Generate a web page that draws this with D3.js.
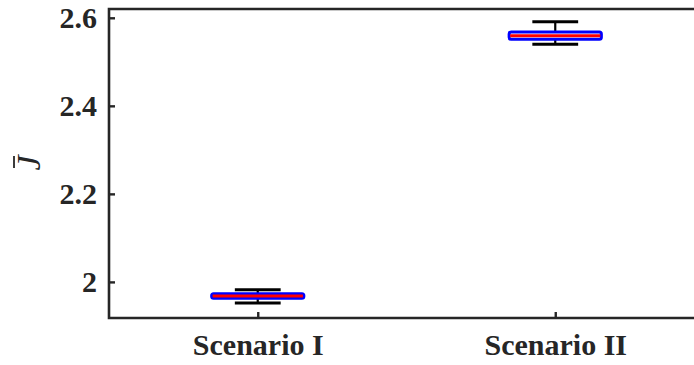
<!DOCTYPE html>
<html>
<head>
<meta charset="utf-8">
<script src="https://cdn.jsdelivr.net/npm/d3@7"></script>
<style>
  body { margin: 0; background: #fff; }
  svg { display: block; }
  text { font-family: "Liberation Serif", "Times New Roman", serif; }
</style>
</head>
<body>
<div id="vis"></div>
<script>
const FRAME_WIDTH = 694;
const FRAME_HEIGHT = 365;
const MARGINS = {left: 109, top: 9, bottom: 47};
const PLOT_RIGHT = 704; // axes box runs past the window edge

// box statistics
const scenarios = ["Scenario I", "Scenario II"];
const whiskerLow = [1.952, 2.540];
const q1 = [1.963, 2.551];
const median = [1.968, 2.559];
const q3 = [1.973, 2.568];
const whiskerHigh = [1.982, 2.591];
const yTicks = [2, 2.2, 2.4, 2.6];

const FRAME = d3.select("#vis")
  .append("svg")
    .attr("width", FRAME_WIDTH)
    .attr("height", FRAME_HEIGHT);

const X_SCALE = d3.scaleLinear()
  .domain([0.5, 2.5])
  .range([MARGINS.left, PLOT_RIGHT]);

const Y_SCALE = d3.scaleLinear()
  .domain([1.918, 2.62])
  .range([FRAME_HEIGHT - MARGINS.bottom, MARGINS.top]);

const AXIS_COLOR = "#262626";
const boxHalf = 0.155;
const capHalf = 0.077;

// box frame (top + left + bottom)
FRAME.append("path")
  .attr("d", "M" + PLOT_RIGHT + "," + Y_SCALE.range()[1] +
             "H" + MARGINS.left + "V" + Y_SCALE.range()[0] + "H" + PLOT_RIGHT)
  .attr("fill", "none")
  .attr("stroke", AXIS_COLOR)
  .attr("stroke-width", 2.6);

// y axis ticks and labels
const yAxis = FRAME.append("g")
  .attr("transform", "translate(" + MARGINS.left + ",0)")
  .call(d3.axisLeft(Y_SCALE).tickValues(yTicks).tickSize(-6).tickPadding(12)
          .tickFormat(d3.format("")));
yAxis.select(".domain").remove();
yAxis.selectAll("line").attr("stroke", AXIS_COLOR).attr("stroke-width", 2.4);
yAxis.selectAll("text")
  .attr("fill", AXIS_COLOR)
  .attr("font-size", "30px")
  .attr("font-weight", "bold")
  .attr("font-family", "Liberation Serif, serif");

// x axis ticks and labels
const xAxis = FRAME.append("g")
  .attr("transform", "translate(0," + Y_SCALE.range()[0] + ")")
  .call(d3.axisBottom(X_SCALE).tickValues([1, 2]).tickSize(-6).tickPadding(16)
          .tickFormat((d) => scenarios[d - 1]));
xAxis.select(".domain").remove();
xAxis.selectAll("line").attr("stroke", AXIS_COLOR).attr("stroke-width", 2.4);
xAxis.selectAll("text")
  .attr("fill", AXIS_COLOR)
  .attr("font-size", "30px")
  .attr("font-weight", "bold")
  .attr("font-family", "Liberation Serif, serif");

// boxes
const idx = d3.range(scenarios.length);
const boxes = FRAME.append("g");

boxes.selectAll(".whisker")
  .data(idx).enter().append("line")
    .attr("x1", (i) => X_SCALE(i + 1))
    .attr("x2", (i) => X_SCALE(i + 1))
    .attr("y1", (i) => Y_SCALE(whiskerLow[i]))
    .attr("y2", (i) => Y_SCALE(whiskerHigh[i]))
    .attr("stroke", "#000").attr("stroke-width", 2.2);

boxes.selectAll(".capLow")
  .data(idx).enter().append("line")
    .attr("x1", (i) => X_SCALE(i + 1 - capHalf))
    .attr("x2", (i) => X_SCALE(i + 1 + capHalf))
    .attr("y1", (i) => Y_SCALE(whiskerLow[i]))
    .attr("y2", (i) => Y_SCALE(whiskerLow[i]))
    .attr("stroke", "#000").attr("stroke-width", 3);

boxes.selectAll(".capHigh")
  .data(idx).enter().append("line")
    .attr("x1", (i) => X_SCALE(i + 1 - capHalf))
    .attr("x2", (i) => X_SCALE(i + 1 + capHalf))
    .attr("y1", (i) => Y_SCALE(whiskerHigh[i]))
    .attr("y2", (i) => Y_SCALE(whiskerHigh[i]))
    .attr("stroke", "#000").attr("stroke-width", 3);

boxes.selectAll(".box")
  .data(idx).enter().append("rect")
    .attr("x", (i) => X_SCALE(i + 1 - boxHalf))
    .attr("width", (i) => X_SCALE(i + 1 + boxHalf) - X_SCALE(i + 1 - boxHalf))
    .attr("y", (i) => Y_SCALE(q3[i]))
    .attr("height", (i) => Y_SCALE(q1[i]) - Y_SCALE(q3[i]))
    .attr("rx", 2)
    .attr("fill", "#fff")
    .attr("stroke", "#0000ff").attr("stroke-width", 3);

boxes.selectAll(".median")
  .data(idx).enter().append("line")
    .attr("x1", (i) => X_SCALE(i + 1 - boxHalf) + 1)
    .attr("x2", (i) => X_SCALE(i + 1 + boxHalf) - 1)
    .attr("y1", (i) => Y_SCALE(median[i]))
    .attr("y2", (i) => Y_SCALE(median[i]))
    .attr("stroke", "#ff0000").attr("stroke-width", 3);

// y label: J with an overbar, rotated
const yLabel = FRAME.append("g")
  .attr("transform", "translate(40,163) rotate(-90)");
yLabel.append("text")
  .attr("text-anchor", "middle")
  .attr("font-size", "34px")
  .attr("font-style", "italic")
  .attr("fill", AXIS_COLOR)
  .text("J");
yLabel.append("line")
  .attr("x1", -5).attr("x2", 7)
  .attr("y1", -26).attr("y2", -26)
  .attr("stroke", AXIS_COLOR).attr("stroke-width", 1.8);
</script>
</body>
</html>
